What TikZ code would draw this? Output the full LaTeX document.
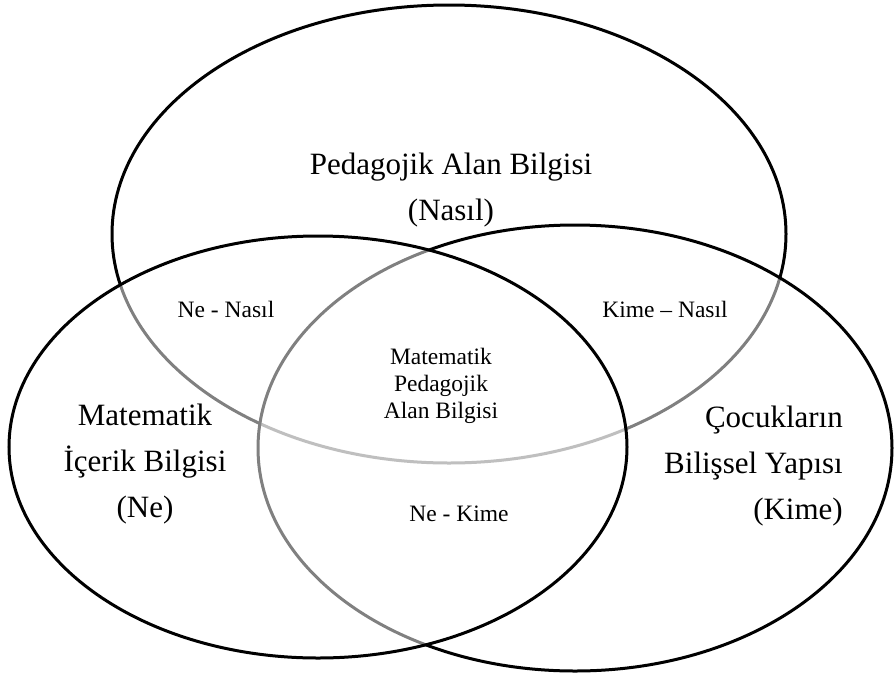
\documentclass[tikz,border=0pt]{standalone}
\usepackage{fontspec}
\setmainfont{Liberation Serif}

\newcommand{\bigtxt}{\fontsize{31}{46}\selectfont}
\newcommand{\smalltxt}{\fontsize{23.5}{27}\selectfont}

\tikzset{
	kreis/.style={draw=black, line width=3pt},
	schleier/.style={fill=white, fill opacity=0.5},
	gross/.style={font=\bigtxt, align=center, inner sep=0pt},
	klein/.style={font=\smalltxt, align=center, inner sep=0pt}
}

\begin{document}
\begin{tikzpicture}[x=1pt, y=-1pt]
		
		% Rahmen (Bildgroesse)
		\useasboundingbox (0,0) rectangle (894,675);
		
		% Oberer Kreis: Pedagogik
		\draw[kreis] (449,234) ellipse (337 and 229);
		
		% Rechter Kreis: Kinder (halbtransparent, damit Linien darunter grau werden)
		\fill[schleier] (575,448) ellipse (317 and 223);
		\draw[kreis] (575,448) ellipse (317 and 223);
		
		% Linker Kreis: Mathematik
		\fill[schleier] (318,447) ellipse (309 and 211);
		\draw[kreis] (318,447) ellipse (309 and 211);
		
		% Hauptbeschriftungen
		\node[gross] (nasil) at (451,190) {Pedagojik Alan Bilgisi\\(Nasıl)};
		\node[gross] (ne) at (145,464) {Matematik\\İçerik Bilgisi\\(Ne)};
		\node[gross, align=right, anchor=east] (kime) at (843,466) {Çocukların\\Bilişsel Yapısı\\(Kime)};
		
		% Schnittmengen
		\node[klein] (nenasil) at (226,309) {Ne - Nasıl};
		\node[klein] (kimenasil) at (665,309) {Kime – Nasıl};
		\node[klein] (nekime) at (459,514) {Ne - Kime};
		\node[klein] (mitte) at (441,386) {Matematik\\Pedagojik\\Alan Bilgisi};
		
	\end{tikzpicture}
\end{document}
